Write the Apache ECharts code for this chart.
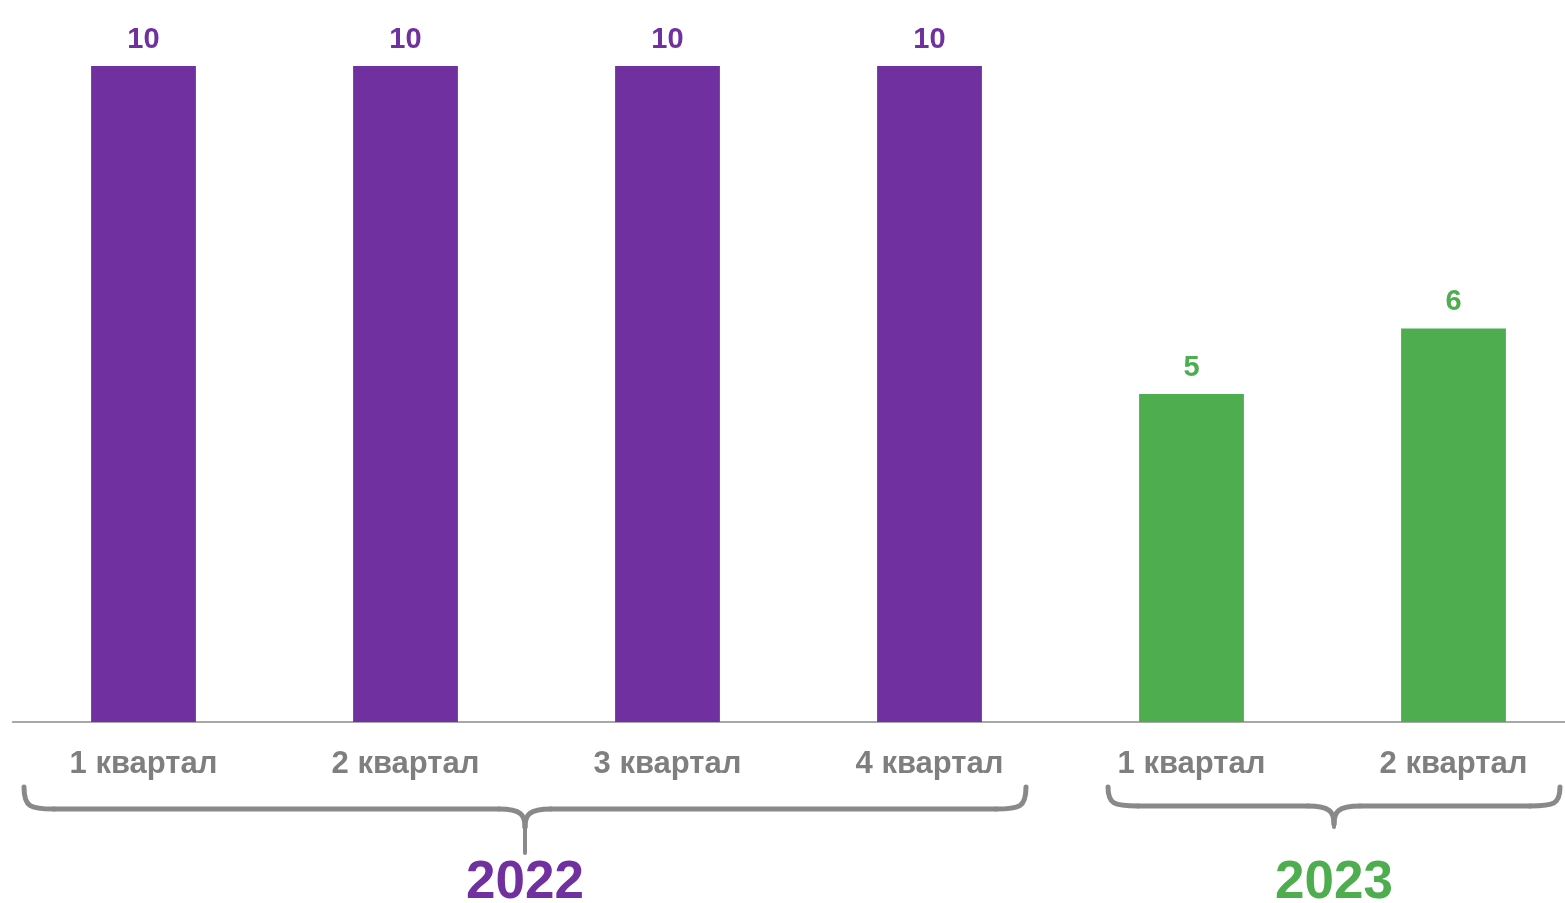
<!DOCTYPE html>
<html>
<head>
<meta charset="utf-8">
<script src="https://cdn.jsdelivr.net/npm/echarts@6/dist/echarts.min.js"></script>
<style>
html,body{margin:0;padding:0;background:#fff;}
#c{width:1565px;height:903px;}
</style>
</head>
<body>
<div id="c"></div>
<script>
// ---- data ----
const categories = ['1 квартал', '2 квартал', '3 квартал', '4 квартал', '1 квартал', '2 квартал'];
const values = [10, 10, 10, 10, 5, 6];
const yearOfBar = ['2022', '2022', '2022', '2022', '2023', '2023'];
const years = ['2022', '2023'];

// ---- styles ----
const yearColors = { '2022': '#7030A0', '2023': '#4EAD4F' };
const labelGray = '#7F7F7F';
const braceGray = '#898989';
const FONT = '"Liberation Sans", Arial, sans-serif';
// brace layout per year: offsets (px) from outer bar centres and stem depth
const braceLayout = {
  '2022': { left: -119.5, right: 96.5, yH: 809, yB: 853 },
  '2023': { left: -83.5, right: 106.5, yH: 806, yB: 827 }
};

const chart = echarts.init(document.getElementById('c'), null, { renderer: 'canvas' });

const option = {
  animation: false,
  backgroundColor: '#ffffff',
  grid: { left: 12.5, width: 1572, top: 66, bottom: 181, containLabel: false, outerBoundsMode: 'none' },
  xAxis: {
    type: 'category',
    data: categories,
    axisLine: { show: true, lineStyle: { color: '#8C8C8C', width: 1.5 } },
    axisTick: { show: false },
    axisLabel: {
      color: labelGray, fontFamily: FONT, fontWeight: 'bold', fontSize: 31,
      margin: 27, interval: 0
    }
  },
  yAxis: {
    type: 'value', min: 0, max: 10, interval: 2,
    show: false, splitLine: { show: false }
  },
  series: [{
    type: 'bar',
    barWidth: '40%',
    data: values.map((v, i) => ({
      value: v,
      itemStyle: { color: yearColors[yearOfBar[i]] },
      label: { color: yearColors[yearOfBar[i]] }
    })),
    label: {
      show: true, position: 'top', distance: 12,
      fontFamily: FONT, fontWeight: 'bold', fontSize: 29
    }
  }]
};
chart.setOption(option);

function drawBraces() {
  const elements = [];
  const stroke = { stroke: braceGray, lineWidth: 5, lineCap: 'round', fill: null };
  years.forEach(y => {
    const idx = yearOfBar.map((yy, i) => yy === y ? i : -1).filter(i => i >= 0);
    const first = chart.convertToPixel({ xAxisIndex: 0 }, idx[0]);
    const last = chart.convertToPixel({ xAxisIndex: 0 }, idx[idx.length - 1]);
    const L = braceLayout[y];
    const x0 = first + L.left, x1 = last + L.right;
    const xm = (x0 + x1) / 2;
    const yT = 787, yH = L.yH, yB = L.yB;
    const r = 30;
    elements.push({ type: 'bezierCurve', shape: { x1: x0, y1: yT, cpx1: x0, cpy1: yH - 2, cpx2: x0 + 6, cpy2: yH, x2: x0 + r, y2: yH }, style: stroke });
    elements.push({ type: 'line', shape: { x1: x0 + r, y1: yH, x2: xm - 26, y2: yH }, style: stroke });
    elements.push({ type: 'bezierCurve', shape: { x1: xm - 26, y1: yH, cpx1: xm - 4, cpy1: yH, cpx2: xm, cpy2: yH + 6, x2: xm, y2: yH + 18 }, style: stroke });
    elements.push({ type: 'bezierCurve', shape: { x1: xm + 26, y1: yH, cpx1: xm + 4, cpy1: yH, cpx2: xm, cpy2: yH + 6, x2: xm, y2: yH + 18 }, style: stroke });
    elements.push({ type: 'line', shape: { x1: xm, y1: yH + 18, x2: xm, y2: yB }, style: Object.assign({}, stroke, { lineWidth: 4 }) });
    elements.push({ type: 'line', shape: { x1: xm + 26, y1: yH, x2: x1 - r, y2: yH }, style: stroke });
    elements.push({ type: 'bezierCurve', shape: { x1: x1 - r, y1: yH, cpx1: x1 - 6, cpy1: yH, cpx2: x1, cpy2: yH - 2, x2: x1, y2: yT }, style: stroke });
    elements.push({
      type: 'text',
      x: xm, y: 883,
      style: {
        text: y, fill: yearColors[y], font: `bold 53px ${FONT}`,
        textAlign: 'center', textVerticalAlign: 'middle'
      }
    });
  });
  chart.setOption({ graphic: { elements } });
}
drawBraces();
</script>
</body>
</html>
